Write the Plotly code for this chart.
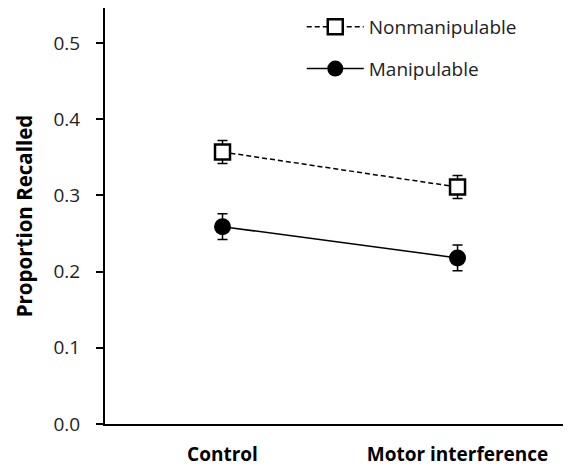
import plotly.graph_objects as go

conditions = ["Control", "Motor interference"]
x_pos = [0, 1]
nonmanip = [0.357, 0.311]
nonmanip_err = [0.015, 0.015]
manip = [0.259, 0.218]
manip_err = [0.017, 0.017]

font_family = "Open Sans, Liberation Sans, sans-serif"

fig = go.Figure()
fig.add_trace(go.Scatter(
    x=x_pos, y=nonmanip, name="Nonmanipulable", mode="lines+markers",
    line=dict(color="black", width=1.5, dash="5px,3px"),
    marker=dict(symbol="square", size=15, color="white", line=dict(color="black", width=2.5)),
    error_y=dict(type="data", array=nonmanip_err, color="black", thickness=1.5, width=5),
    legendgroup="a",
))
fig.add_trace(go.Scatter(
    x=x_pos, y=manip, name="Manipulable", mode="lines+markers",
    line=dict(color="black", width=1.5),
    marker=dict(symbol="circle", size=17, color="black"),
    error_y=dict(type="data", array=manip_err, color="black", thickness=1.5, width=5),
    legendgroup="b",
))

fig.update_layout(
    width=563, height=463,
    margin=dict(l=97, r=3, t=0, b=47, autoexpand=False),
    plot_bgcolor="white", paper_bgcolor="white",
    font=dict(family=font_family, size=18, color="#222"),
    showlegend=True,
    legend=dict(x=0.425, y=1.0, xanchor="left", yanchor="top",
                bgcolor="rgba(0,0,0,0)", tracegroupgap=14,
                font=dict(size=19, color="#222"), itemwidth=57),
    xaxis=dict(range=[-0.5, 1.47], tickvals=x_pos, ticktext=["<b>%s</b>" % c for c in conditions],
               showline=True, linecolor="black", linewidth=2, ticks="",
               showgrid=False, zeroline=False, tickfont=dict(size=19, color="black"),
               ticklabelstandoff=12, automargin=False),
    yaxis=dict(range=[0, 0.546], tickvals=[0, 0.1, 0.2, 0.3, 0.4, 0.5], tickformat=".1f",
               showline=True, linecolor="black", linewidth=2, ticks="outside", ticklen=7,
               tickcolor="black", tickwidth=1.5, automargin=False, ticklabelstandoff=12,
               showgrid=False, zeroline=False, tickfont=dict(size=19, color="#222"),
               title=dict(text="<b>Proportion Recalled</b>", font=dict(size=20.5, color="black"), standoff=15)),
)

fig.write_html("out.html")
